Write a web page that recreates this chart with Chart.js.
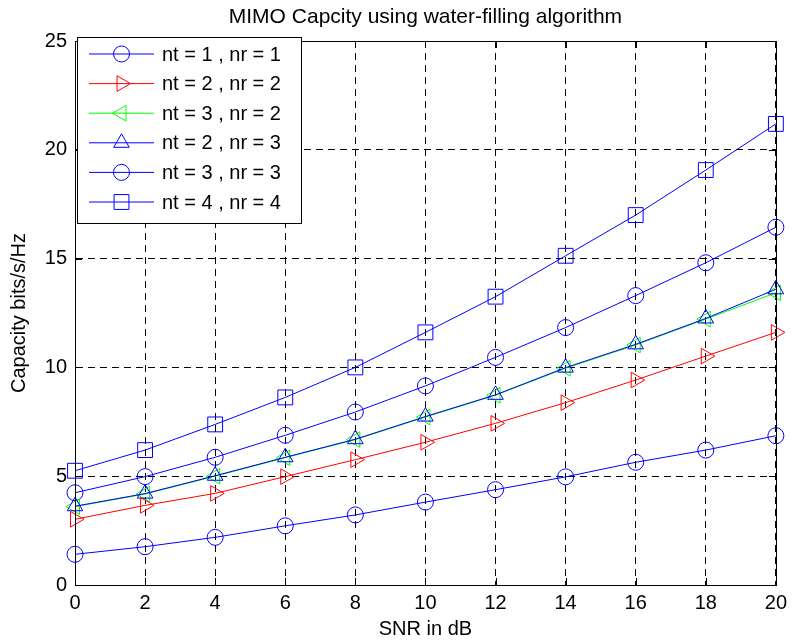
<!DOCTYPE html>
<html>
<head>
<meta charset="utf-8">
<script src="https://cdn.jsdelivr.net/npm/chart.js@4/dist/chart.umd.min.js"></script>
<style>
  body { margin: 0; background: #fff; }
  #wrap { width: 793px; height: 641px; }
</style>
</head>
<body>
<div id="wrap"><canvas id="grafico" width="793" height="641"></canvas></div>
<script>
// Dados
const snr = [0, 2, 4, 6, 8, 10, 12, 14, 16, 18, 20];
const cap11 = [1.41, 1.76, 2.19, 2.72, 3.22, 3.81, 4.38, 4.97, 5.64, 6.2, 6.86];
const cap22 = [3.02, 3.66, 4.21, 4.98, 5.76, 6.56, 7.43, 8.38, 9.42, 10.52, 11.61];
const cap32 = [3.6, 4.18, 5.0, 5.85, 6.68, 7.72, 8.72, 9.96, 11.03, 12.22, 13.43];
const cap23 = [3.62, 4.2, 5.02, 5.87, 6.7, 7.74, 8.74, 9.99, 11.06, 12.25, 13.59];
const cap33 = [4.24, 4.98, 5.87, 6.88, 7.95, 9.15, 10.46, 11.83, 13.3, 14.81, 16.44];
const cap44 = [5.25, 6.2, 7.38, 8.62, 10.0, 11.61, 13.25, 15.13, 17.0, 19.07, 21.19];
const legendas = ['nt = 1 , nr = 1', 'nt = 2 , nr = 2', 'nt = 3 , nr = 2', 'nt = 2 , nr = 3', 'nt = 3 , nr = 3', 'nt = 4 , nr = 4'];
const xTicks = [0, 2, 4, 6, 8, 10, 12, 14, 16, 18, 20];
const yTicks = [0, 5, 10, 15, 20, 25];
const titulo = 'MIMO Capcity using water-filling algorithm';

const fonte = '"Liberation Sans", Arial, Helvetica, sans-serif';

function serie(label, valores, cor, estilo, raio, rotacao, ordem) {
    return {
        label: label,
        data: snr.map((x, i) => ({ x: x, y: valores[i] })),
        borderColor: cor,
        borderWidth: 1,
        pointStyle: estilo,
        pointRadius: raio,
        pointHoverRadius: raio,
        pointRotation: rotacao,
        pointBorderColor: cor,
        pointBackgroundColor: 'rgba(0,0,0,0)',
        pointBorderWidth: 1,
        tension: 0,
        clip: false,
        order: ordem
    };
}

const datasets = [
    serie(legendas[0], cap11, '#0000ff', 'circle', 8, 0, 0),
    serie(legendas[1], cap22, '#ff0000', 'triangle', 9, 90, 1),
    serie(legendas[2], cap32, '#00ff00', 'triangle', 9, -90, 3),
    serie(legendas[3], cap23, '#0000ff', 'triangle', 9, 0, 2),
    serie(legendas[4], cap33, '#0000ff', 'circle', 8, 0, 4),
    serie(legendas[5], cap44, '#0000ff', 'rect', 10.5, 0, 5)
];

// Moldura, marcas internas, título e legenda (estilo Matlab)
const molduraPlugin = {
    id: 'moldura',
    afterDraw(chart) {
        const ctx = chart.ctx;
        const a = chart.chartArea;
        const sx = chart.scales.x, sy = chart.scales.y;
        ctx.save();
        ctx.strokeStyle = '#000';
        ctx.lineWidth = 1;
        ctx.beginPath();
        xTicks.forEach(v => {
            const px = Math.round(sx.getPixelForValue(v)) + 0.5;
            ctx.moveTo(px, a.bottom); ctx.lineTo(px, a.bottom - 7);
            ctx.moveTo(px, a.top); ctx.lineTo(px, a.top + 7);
        });
        yTicks.forEach(v => {
            const py = Math.round(sy.getPixelForValue(v)) + 0.5;
            ctx.moveTo(a.left, py); ctx.lineTo(a.left + 7, py);
            ctx.moveTo(a.right, py); ctx.lineTo(a.right - 7, py);
        });
        ctx.stroke();
        ctx.strokeRect(Math.round(a.left) + 0.5, Math.round(a.top) + 0.5, Math.round(a.right - a.left), Math.round(a.bottom - a.top));

        // título centrado na área do gráfico
        ctx.fillStyle = '#000';
        ctx.font = '21px ' + fonte;
        ctx.textAlign = 'center';
        ctx.textBaseline = 'middle';
        ctx.fillText(titulo, (a.left + a.right) / 2, 17);
        ctx.restore();
        desenharLegenda(chart);
    }
};

function desenharLegenda(chart) {
    const ctx = chart.ctx;
    const x0 = 77.5, y0 = 37.5, w = 224, h = 186;
    ctx.save();
    ctx.fillStyle = '#fff';
    ctx.fillRect(x0, y0, w, h);
    ctx.strokeStyle = '#000';
    ctx.lineWidth = 1;
    ctx.strokeRect(x0, y0, w, h);
    chart.data.datasets.forEach((ds, i) => {
        const cy = 54 + i * 29.6;
        ctx.strokeStyle = ds.borderColor;
        ctx.lineWidth = 1;
        ctx.beginPath();
        ctx.moveTo(89, cy);
        ctx.lineTo(154, cy);
        ctx.stroke();
        ctx.fillStyle = 'rgba(0,0,0,0)';
        ctx.strokeStyle = ds.borderColor;
        Chart.helpers.drawPoint(ctx, {
            pointStyle: ds.pointStyle,
            rotation: ds.pointRotation,
            radius: ds.pointRadius,
            borderWidth: 1
        }, 121.5, cy);
        ctx.fillStyle = '#000';
        ctx.font = '20px ' + fonte;
        ctx.textAlign = 'left';
        ctx.textBaseline = 'middle';
        ctx.fillText(ds.label, 162, cy + 1);
    });
    ctx.restore();
}

new Chart(document.getElementById('grafico').getContext('2d'), {
    type: 'line',
    data: { datasets: datasets },
    plugins: [molduraPlugin],
    options: {
        responsive: false,
        animation: false,
        devicePixelRatio: 1,
        layout: { padding: { left: 0, right: 13, top: 41, bottom: 0 } },
        plugins: {
            legend: { display: false },
            tooltip: { enabled: false },
            title: { display: false }
        },
        scales: {
            x: {
                type: 'linear',
                min: 0,
                max: 20,
                afterFit: s => { s.height = 56; },
                afterBuildTicks: s => { s.ticks = xTicks.map(v => ({ value: v })); },
                grid: { color: '#000', lineWidth: 1, drawTicks: false },
                border: { display: true, color: '#000', dash: [7, 5] },
                ticks: { color: '#000', padding: 6, font: { family: fonte, size: 20 }, maxRotation: 0 },
                title: {
                    display: true,
                    text: 'SNR in dB',
                    color: '#000',
                    font: { family: fonte, size: 20 },
                    padding: { top: 0, bottom: 0 }
                }
            },
            y: {
                type: 'linear',
                min: 0,
                max: 25,
                afterFit: s => { s.width = 75; },
                afterBuildTicks: s => { s.ticks = yTicks.map(v => ({ value: v })); },
                grid: { color: '#000', lineWidth: 1, drawTicks: false },
                border: { display: true, color: '#000', dash: [7, 5] },
                ticks: { color: '#000', padding: 8, font: { family: fonte, size: 20 } },
                title: {
                    display: true,
                    text: 'Capacity bits/s/Hz',
                    color: '#000',
                    font: { family: fonte, size: 20 },
                    padding: { top: 7, bottom: 0 }
                }
            }
        }
    }
});
</script>
</body>
</html>
